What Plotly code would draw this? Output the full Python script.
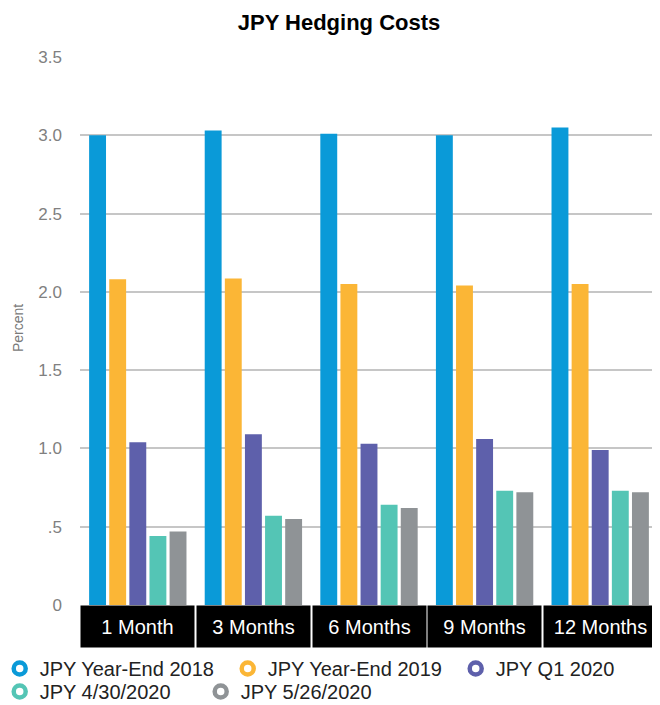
import plotly.graph_objects as go

categories = ["1 Month", "3 Months", "6 Months", "9 Months", "12 Months"]
series_names = ["JPY Year-End 2018", "JPY Year-End 2019", "JPY Q1 2020", "JPY 4/30/2020", "JPY 5/26/2020"]
ye2018 = [3.00, 3.03, 3.01, 3.00, 3.05]
ye2019 = [2.08, 2.085, 2.05, 2.04, 2.05]
q1_2020 = [1.04, 1.09, 1.03, 1.06, 0.99]
d0430 = [0.44, 0.57, 0.64, 0.73, 0.73]
d0526 = [0.47, 0.55, 0.62, 0.72, 0.72]
colors = ["#0a9ad8", "#fbb636", "#5e60ab", "#54c5b5", "#8f9396"]
tick_vals = [0, 0.5, 1.0, 1.5, 2.0, 2.5, 3.0, 3.5]
tick_text = ["0", ".5", "1.0", "1.5", "2.0", "2.5", "3.0", "3.5"]

series = [ye2018, ye2019, q1_2020, d0430, d0526]

FONT = "Liberation Sans"
# page body has an 8px margin: figure is sized to fit inside the 660x705 window
W, H = 652, 697
ML, MR, MT, MB = 72, 2, 49, 100
PW, PH = W - ML - MR, H - MT - MB

fig = go.Figure()
for name, vals, c in zip(series_names, series, colors):
    fig.add_trace(go.Bar(x=categories, y=vals, name=name, marker_color=c,
                         marker_line_width=0, showlegend=False, legendgroup=name))

legend_ids = ["legend", "legend2", "legend3", "legend4", "legend5"]
for lid, name, c in zip(legend_ids, series_names, colors):
    fig.add_trace(go.Scatter(x=[None], y=[None], mode="markers", name=name, legendgroup=name,
                             legend=lid,
                             marker=dict(symbol="circle", size=12, color="white",
                                         line=dict(color=c, width=4.5))))

for cat in categories:
    fig.add_annotation(x=cat, xref="x", y=0, yref="paper", yanchor="top", showarrow=False,
                       text=cat, font=dict(family=FONT, size=20, color="white"),
                       bgcolor="black", width=111, height=39, borderpad=1)

fig.add_annotation(text="Percent", xref="paper", x=(10 - ML) / PW, xanchor="center",
                   yref="paper", y=(MT + PH - 320) / PH, yanchor="middle", textangle=-90,
                   showarrow=False, font=dict(family=FONT, size=14, color="#7a7a7a"))

legend_common = dict(orientation="h", xanchor="left", yanchor="top",
                     font=dict(family=FONT, size=20, color="#222222"), itemwidth=30,
                     bgcolor="rgba(0,0,0,0)")

# legend placement (ring left edges in figure px; rows)
ring_left = [4, 232, 460, 4, 205]
row_top = [641, 641, 641, 664, 664]
legends = {}
for lid, rl, rt in zip(legend_ids, ring_left, row_top):
    legends[lid] = dict(x=(rl - 12.3 - ML) / PW, y=-(rt - (MT + PH)) / PH, **legend_common)

fig.update_layout(
    width=W, height=H,
    margin=dict(l=ML, r=MR, t=MT, b=MB, autoexpand=False),
    paper_bgcolor="white", plot_bgcolor="white",
    barmode="group", bargap=0.13, bargroupgap=0.16,
    title=dict(text="<b>JPY Hedging Costs</b>", x=331 / W, xanchor="center",
               y=1 - 14 / H, yanchor="middle", yref="container",
               font=dict(family=FONT, size=22, color="black")),
    xaxis=dict(showticklabels=False, showgrid=False, zeroline=False, showline=False, ticks=""),
    yaxis=dict(range=[0, 3.5], tickvals=tick_vals, ticktext=tick_text, automargin=False,
               showgrid=True, gridcolor="#c6c6c6", gridwidth=1.5, zeroline=False,
               tickfont=dict(family=FONT, size=17, color="#808080"), ticks="",
               ticklabelstandoff=17),
    **legends,
)

fig.write_html("out.html")
